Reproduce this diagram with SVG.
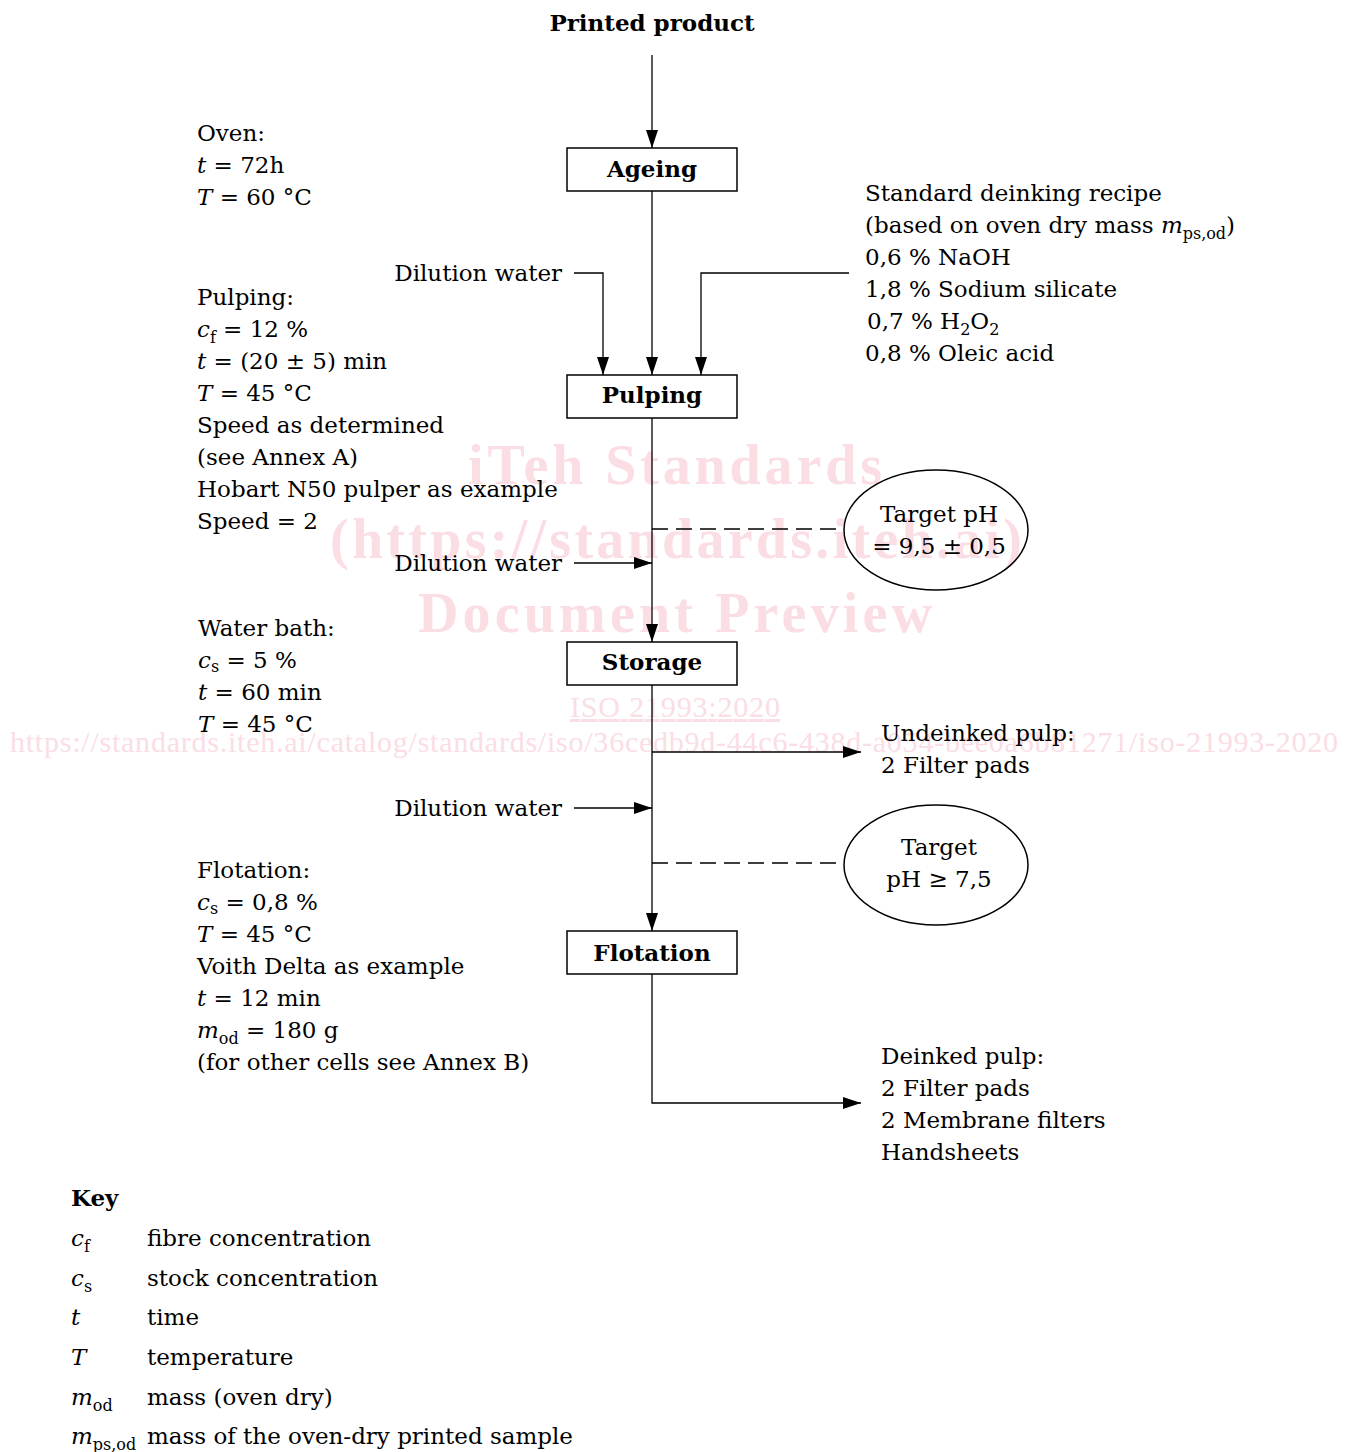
<svg xmlns="http://www.w3.org/2000/svg" width="1354" height="1452" viewBox="0 0 1354 1452">
<style>
.t{font-family:"DejaVu Serif","Liberation Serif",serif;font-size:23px;fill:#000}
.b{font-weight:bold}
.i{font-style:italic}
.wm{font-family:"Liberation Serif",serif;fill:#fbdde4}
.box{fill:#fff;stroke:#000;stroke-width:1.5}
.ell{fill:none;stroke:#000;stroke-width:1.5}
.ln{fill:none;stroke:#000;stroke-width:1.3}
.da{fill:none;stroke:#000;stroke-width:1.3;stroke-dasharray:16,8}
</style>
<defs>
<marker id="ah" markerUnits="userSpaceOnUse" markerWidth="20" markerHeight="12" refX="18" refY="6" orient="auto">
<path d="M0,0 L18,6 L0,12 Z" fill="#000"/>
</marker>
</defs>
<rect width="1354" height="1452" fill="#fff"/>
<g id="watermark">
<text class="wm" x="675" y="484" text-anchor="middle" font-size="56" font-weight="bold" textLength="414">iTeh Standards</text>
<text class="wm" x="676" y="558" text-anchor="middle" font-size="56" font-weight="bold" textLength="692">(https://standards.iteh.ai)</text>
<text class="wm" x="675" y="632" text-anchor="middle" font-size="56" font-weight="bold" textLength="514">Document Preview</text>
<text class="wm" x="675" y="717" text-anchor="middle" font-size="30" textLength="210" text-decoration="underline">ISO 21993:2020</text>
<text class="wm" x="674" y="752" text-anchor="middle" font-size="30" textLength="1328">https://standards.iteh.ai/catalog/standards/iso/36cedb9d-44c6-438d-a054-bee0a6b81271/iso-21993-2020</text>
</g>
<g id="connectors">
<line class="ln" x1="652" y1="55" x2="652" y2="148" marker-end="url(#ah)"/>
<line class="ln" x1="652" y1="191" x2="652" y2="375" marker-end="url(#ah)"/>
<polyline class="ln" points="574,273 603,273 603,375" marker-end="url(#ah)"/>
<polyline class="ln" points="849,273 701,273 701,375" marker-end="url(#ah)"/>
<line class="ln" x1="652" y1="418" x2="652" y2="642" marker-end="url(#ah)"/>
<line class="da" x1="652" y1="529" x2="844" y2="529"/>
<line class="ln" x1="574" y1="563" x2="652" y2="563" marker-end="url(#ah)"/>
<line class="ln" x1="652" y1="685" x2="652" y2="931" marker-end="url(#ah)"/>
<line class="ln" x1="652" y1="752" x2="861" y2="752" marker-end="url(#ah)"/>
<line class="ln" x1="574" y1="808" x2="652" y2="808" marker-end="url(#ah)"/>
<line class="da" x1="652" y1="863" x2="844" y2="863"/>
<polyline class="ln" points="652,974 652,1103 861,1103" marker-end="url(#ah)"/>
</g>
<g id="printed-product">
<text class="t b" x="652" y="31" text-anchor="middle">Printed product</text>
</g>
<g id="ageing">
<rect class="box" x="567" y="148" width="170" height="43"/>
<text class="t b" x="652" y="177" text-anchor="middle">Ageing</text>
</g>
<g id="pulping">
<rect class="box" x="567" y="375" width="170" height="43"/>
<text class="t b" x="652" y="403" text-anchor="middle">Pulping</text>
</g>
<g id="storage">
<rect class="box" x="567" y="642" width="170" height="43"/>
<text class="t b" x="652" y="670" text-anchor="middle">Storage</text>
</g>
<g id="flotation">
<rect class="box" x="567" y="931" width="170" height="43"/>
<text class="t b" x="652" y="961" text-anchor="middle">Flotation</text>
</g>
<g id="target-ph-1">
<ellipse class="ell" cx="936" cy="530" rx="92" ry="60"/>
<text class="t" x="939" y="522" text-anchor="middle">Target pH</text>
<text class="t" x="939" y="554" text-anchor="middle">= 9,5 ± 0,5</text>
</g>
<g id="target-ph-2">
<ellipse class="ell" cx="936" cy="865" rx="92" ry="60"/>
<text class="t" x="939" y="855" text-anchor="middle">Target</text>
<text class="t" x="939" y="887" text-anchor="middle">pH ≥ 7,5</text>
</g>
<g id="dilution-1"><text class="t" x="562" y="281" text-anchor="end">Dilution water</text></g>
<g id="dilution-2"><text class="t" x="562" y="571" text-anchor="end">Dilution water</text></g>
<g id="dilution-3"><text class="t" x="562" y="816" text-anchor="end">Dilution water</text></g>
<g id="recipe">
<text class="t" x="865" y="201">Standard deinking recipe</text>
<text class="t" x="865" y="233">(based on oven dry mass <tspan class="i">m</tspan><tspan font-size="16" dy="6">ps,od</tspan><tspan dy="-6">)</tspan></text>
<text class="t" x="865" y="265">0,6 % NaOH</text>
<text class="t" x="865" y="297">1,8 % Sodium silicate</text>
<text class="t" x="867" y="329">0,7 % H<tspan font-size="16" dy="6">2</tspan><tspan dy="-6">O</tspan><tspan font-size="16" dy="6">2</tspan></text>
<text class="t" x="865" y="361">0,8 % Oleic acid</text>
</g>
<g id="undeinked">
<text class="t" x="881" y="741">Undeinked pulp:</text>
<text class="t" x="881" y="773">2 Filter pads</text>
</g>
<g id="deinked">
<text class="t" x="881" y="1064">Deinked pulp:</text>
<text class="t" x="881" y="1096">2 Filter pads</text>
<text class="t" x="881" y="1128">2 Membrane filters</text>
<text class="t" x="881" y="1160">Handsheets</text>
</g>
<g id="oven-params">
<text class="t" x="197" y="141">Oven:</text>
<text class="t" x="197" y="173"><tspan class="i">t</tspan> = 72h</text>
<text class="t" x="197" y="205"><tspan class="i">T</tspan> = 60 °C</text>
</g>
<g id="pulping-params">
<text class="t" x="197" y="305">Pulping:</text>
<text class="t" x="197" y="337"><tspan class="i">c</tspan><tspan font-size="16" dy="6">f</tspan><tspan dy="-6"> = 12 %</tspan></text>
<text class="t" x="197" y="369"><tspan class="i">t</tspan> = (20 ± 5) min</text>
<text class="t" x="197" y="401"><tspan class="i">T</tspan> = 45 °C</text>
<text class="t" x="197" y="433">Speed as determined</text>
<text class="t" x="197" y="465">(see Annex A)</text>
<text class="t" x="197" y="497">Hobart N50 pulper as example</text>
<text class="t" x="197" y="529">Speed = 2</text>
</g>
<g id="waterbath-params">
<text class="t" x="198" y="636">Water bath:</text>
<text class="t" x="198" y="668"><tspan class="i">c</tspan><tspan font-size="16" dy="4">s</tspan><tspan dy="-4"> = 5 %</tspan></text>
<text class="t" x="198" y="700"><tspan class="i">t</tspan> = 60 min</text>
<text class="t" x="198" y="732"><tspan class="i">T</tspan> = 45 °C</text>
</g>
<g id="flotation-params">
<text class="t" x="197" y="878">Flotation:</text>
<text class="t" x="197" y="910"><tspan class="i">c</tspan><tspan font-size="16" dy="4">s</tspan><tspan dy="-4"> = 0,8 %</tspan></text>
<text class="t" x="197" y="942"><tspan class="i">T</tspan> = 45 °C</text>
<text class="t" x="197" y="974">Voith Delta as example</text>
<text class="t" x="197" y="1006"><tspan class="i">t</tspan> = 12 min</text>
<text class="t" x="197" y="1038"><tspan class="i">m</tspan><tspan font-size="16" dy="6">od</tspan><tspan dy="-6"> = 180 g</tspan></text>
<text class="t" x="197" y="1070">(for other cells see Annex B)</text>
</g>
<g id="key">
<text class="t b" x="71" y="1206">Key</text>
<text class="t i" x="71" y="1246">c<tspan font-style="normal" font-size="16" dy="6">f</tspan></text>
<text class="t" x="147" y="1246">fibre concentration</text>
<text class="t i" x="71" y="1286">c<tspan font-style="normal" font-size="16" dy="6">s</tspan></text>
<text class="t" x="147" y="1286">stock concentration</text>
<text class="t i" x="71" y="1325">t</text>
<text class="t" x="147" y="1325">time</text>
<text class="t i" x="71" y="1365">T</text>
<text class="t" x="147" y="1365">temperature</text>
<text class="t i" x="71" y="1405">m<tspan font-style="normal" font-size="16" dy="6">od</tspan></text>
<text class="t" x="147" y="1405">mass (oven dry)</text>
<text class="t i" x="71" y="1444">m<tspan font-style="normal" font-size="16" dy="6">ps,od</tspan></text>
<text class="t" x="147" y="1444">mass of the oven-dry printed sample</text>
</g>
</svg>
